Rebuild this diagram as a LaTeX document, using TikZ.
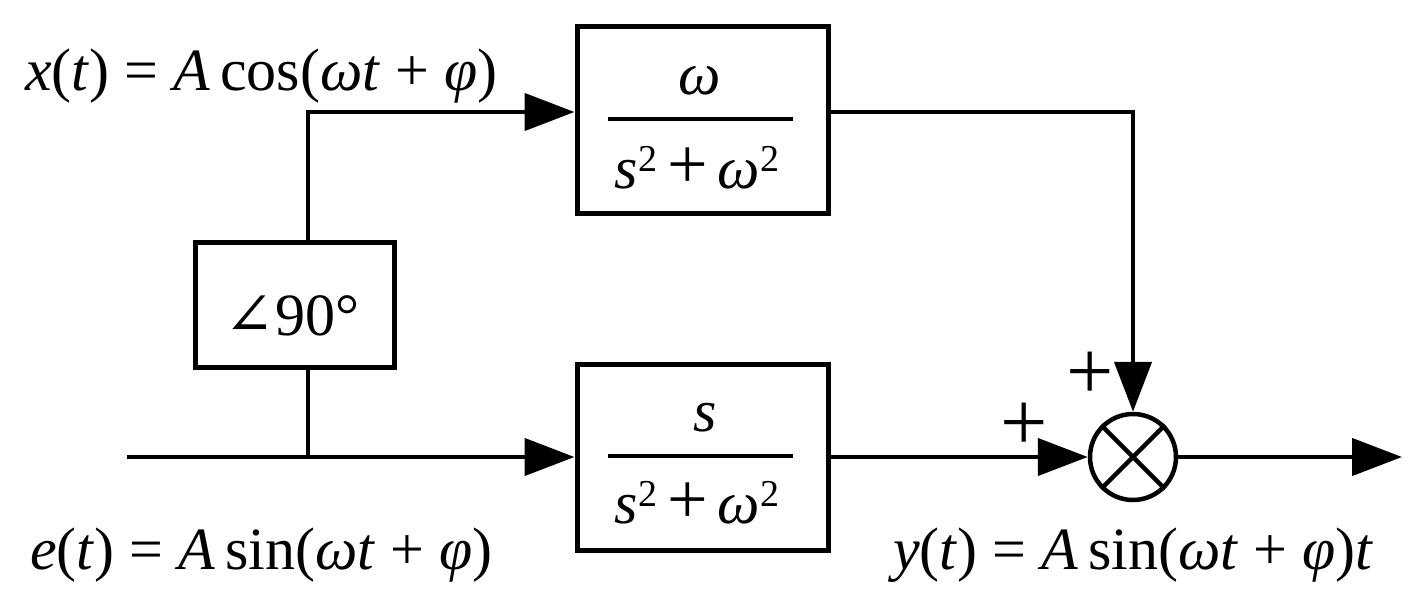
\documentclass[tikz,border=0pt]{standalone}
\usepackage{fontspec}
\setmainfont{Liberation Serif}
\newfontfamily\symfont{DejaVu Serif}
\usetikzlibrary{arrows.meta}
\newcommand{\sqr}{\raisebox{17pt}{\fontsize{38}{38}\selectfont 2}}
\newcommand{\bplus}{{\fontsize{72}{72}\selectfont +}}
\tikzset{
  wire/.style={line width=4.5pt},
  sig/.style={line width=4.5pt,-{Triangle[length=50pt,width=37pt]}},
  blk/.style={draw,line width=5pt,minimum width=251pt,minimum height=186pt,inner sep=0pt},
  lbl/.style={inner sep=0pt,font=\fontsize{60}{66}\selectfont},
  sign/.style={inner sep=0pt,font=\fontsize{84}{90}\selectfont},
  fracbar/.style={line width=4pt},
}
\begin{document}
\begin{tikzpicture}[x=1pt,y=-1pt]
\useasboundingbox (0,0) rectangle (1422,602);
% blocks
\node[blk] (G1) at (702.5,120) {};
\node[blk] (G2) at (702.5,457) {};
\node[draw,line width=5pt,minimum width=199pt,minimum height=125pt,inner sep=0pt] (P) at (295,305) {};
\node[draw,circle,line width=4.5pt,minimum size=86pt,inner sep=0pt] (sum) at (1133,457) {};
\draw[wire] (sum.north west) -- (sum.south east);
\draw[wire] (sum.north east) -- (sum.south west);
% block contents
\node[lbl,anchor=base] (n1) at (700,95) {\textit{ω}};
\draw[fracbar] (608,119) -- (793,119);
\node[lbl,anchor=base] (d1) at (697,188) {\textit{s}\sqr\,\bplus\,\textit{ω}\sqr};
\node[lbl,anchor=base] (n2) at (705,431) {\textit{s}};
\draw[fracbar] (608,456) -- (793,456);
\node[lbl,anchor=base] (d2) at (697,523) {\textit{s}\sqr\,\bplus\,\textit{ω}\sqr};
\node[lbl,anchor=base] (ang) at (292,335) {{\symfont ∠}90°};
% coordinates
\coordinate (in) at (127,457);
\coordinate (jn) at (308,457);
\coordinate (out) at (1402,457);
% connectors
\draw[wire] (in) -- (jn);
\draw[sig] (jn) -- (G2.west);
\draw[wire] (jn) -- (jn |- P.south);
\draw[sig] (jn |- P.north) |- ([yshift=8pt]G1.west);
\draw[sig] ([yshift=8pt]G1.east) -| (sum.north);
\draw[sig] (G2.east) -- (sum.west);
\draw[sig] (sum.east) -- (out);
% signs
\node[sign] (p1) at (1090,376) {+};
\node[sign] (p2) at (1024,427) {+};
% labels
\node[lbl,anchor=base west] (xl) at (25,90) {\textit{x}(\textit{t}) = \textit{A}\,cos(\textit{ωt} + \textit{φ})};
\node[lbl,anchor=base west] (el) at (30,569) {\textit{e}(\textit{t}) = \textit{A}\,sin(\textit{ωt} + \textit{φ})};
\node[lbl,anchor=base west] (yl) at (893,569) {\textit{y}(\textit{t}) = \textit{A}\,sin(\textit{ωt} + \textit{φ})\textit{t}};
\end{tikzpicture}
\end{document}
